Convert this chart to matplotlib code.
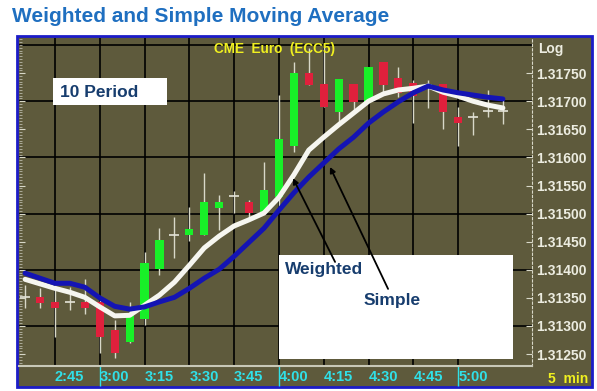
import numpy as np
import matplotlib.pyplot as plt
import matplotlib.ticker as ticker
import matplotlib.transforms as mtransforms
from matplotlib.patches import Rectangle

plt.rcParams['font.family'] = ['Liberation Sans', 'DejaVu Sans']

# 5 min bars from 2:35 to 5:15 (CME Euro ECC5)
opens = [1.31351, 1.31351, 1.31343, 1.31343, 1.31343, 1.31343, 1.31293, 1.31271,
         1.31312, 1.31401, 1.31462, 1.31462, 1.31462, 1.31510, 1.31531, 1.31521,
         1.31501, 1.31529, 1.31620, 1.31750, 1.31731, 1.31681, 1.31731, 1.31699,
         1.31770, 1.31741, 1.31732, 1.31727, 1.31731, 1.31672, 1.31672, 1.31683,
         1.31683]
highs = [1.31373, 1.31367, 1.31373, 1.31369, 1.31383, 1.31346, 1.31311, 1.31343,
         1.31432, 1.31474, 1.31494, 1.31512, 1.31572, 1.31533, 1.31540, 1.31524,
         1.31592, 1.31711, 1.31770, 1.31795, 1.31804, 1.31740, 1.31731, 1.31761,
         1.31770, 1.31761, 1.31738, 1.31738, 1.31731, 1.31690, 1.31681, 1.31720,
         1.31702]
lows = [1.31332, 1.31332, 1.31280, 1.31328, 1.31321, 1.31252, 1.31243, 1.31270,
        1.31302, 1.31391, 1.31421, 1.31451, 1.31462, 1.31471, 1.31501, 1.31489,
        1.31501, 1.31512, 1.31610, 1.31729, 1.31690, 1.31663, 1.31681, 1.31699,
        1.31716, 1.31707, 1.31661, 1.31688, 1.31651, 1.31620, 1.31640, 1.31672,
        1.31659]
closes = [1.31351, 1.31341, 1.31332, 1.31343, 1.31332, 1.31280, 1.31252, 1.31321,
          1.31412, 1.31453, 1.31462, 1.31472, 1.31521, 1.31521, 1.31531, 1.31501,
          1.31542, 1.31633, 1.31750, 1.31729, 1.31690, 1.31740, 1.31699, 1.31761,
          1.31729, 1.31715, 1.31709, 1.31731, 1.31681, 1.31661, 1.31672, 1.31683,
          1.31683]

# 10 period moving averages
wma = [1.31383, 1.31375, 1.31367, 1.31360, 1.31351, 1.31334, 1.31318, 1.31319,
       1.31337, 1.31355, 1.31378, 1.31408, 1.31439, 1.31460, 1.31478, 1.31489,
       1.31501, 1.31529, 1.31569, 1.31613, 1.31636, 1.31658, 1.31679, 1.31700,
       1.31713, 1.31720, 1.31723, 1.31727, 1.31716, 1.31709, 1.31700, 1.31693,
       1.31688]
sma = [1.31394, 1.31385, 1.31376, 1.31376, 1.31369, 1.31350, 1.31335, 1.31330,
       1.31334, 1.31343, 1.31351, 1.31367, 1.31385, 1.31401, 1.31424, 1.31449,
       1.31474, 1.31506, 1.31537, 1.31565, 1.31590, 1.31615, 1.31636, 1.31661,
       1.31681, 1.31699, 1.31715, 1.31727, 1.31720, 1.31715, 1.31711, 1.31707,
       1.31704]

time_labels = ['2:45', '3:00', '3:15', '3:30', '3:45', '4:00', '4:15', '4:30', '4:45', '5:00']
label_bars = [2, 5, 8, 11, 14, 17, 20, 23, 26, 29]
hour_bars = [5, 17, 29]
price_ticks = [1.3125, 1.3130, 1.3135, 1.3140, 1.3145, 1.3150, 1.3155, 1.3160,
               1.3165, 1.3170, 1.3175]
price_labels = ['1.31250', '1.31300', '1.31350', '1.31400', '1.31450', '1.31500',
                '1.31550', '1.31600', '1.31650', '1.31700', '1.31750']
grid_prices = [1.313, 1.314, 1.315, 1.316, 1.317, 1.318]

OLIVE = '#5e5a3c'
NAVY = '#173d6e'
CYAN = '#30e0e8'
YELLOW = '#f0f020'
LIGHT = '#ecece0'

W, H = 597, 391
fig = plt.figure(figsize=(W / 100, H / 100), dpi=100)
fig.patch.set_facecolor('white')

# chart panel with blue frame
panel = Rectangle((17 / W, (H - 387) / H), (592 - 17) / W, (387 - 36) / H,
                  transform=fig.transFigure, facecolor=OLIVE, edgecolor='#1c1cc8',
                  lw=2, zorder=-5)
fig.patches.append(panel)

fig.text(12 / W, (H - 22.5) / H, 'Weighted and Simple Moving Average', fontsize=15,
         fontweight='bold', color='#1f6fc0', va='baseline')

ax = fig.add_axes([19 / W, (H - 366) / H, (532 - 19) / W, (366 - 38) / H])
ax.set_facecolor(OLIVE)
ax.set_zorder(1)

for p in grid_prices:
    ax.axhline(p, color='black', lw=1.2, zorder=1)
for b in label_bars:
    ax.axvline(b, color='black', lw=1.2, zorder=1)

bars = np.arange(len(opens))
o = np.array(opens)
c = np.array(closes)
ax.vlines(bars, lows, highs, color='#d8d8c8', lw=1, zorder=2)
body_col = np.where(c > o, '#18f028', '#e0203c')
ax.bar(bars, np.abs(c - o), bottom=np.minimum(o, c), width=0.55, color=body_col,
       zorder=3)
doji = o == c
ax.hlines(c[doji], bars[doji] - 0.34, bars[doji] + 0.34, color='#e4e4d8', lw=1.2,
          zorder=3)

ax.plot(bars, wma, color='#f6f6f0', lw=3.6, zorder=4, solid_capstyle='round')
ax.plot(bars, sma, color='#1414b4', lw=3.6, zorder=5, solid_capstyle='round')

# callout boxes
ax.add_patch(Rectangle((1.87, 1.31693), 7.64, 0.00048, facecolor='white', zorder=6))
ax.text(2.34, 1.31716, '10 Period', fontsize=12.5, fontweight='bold', color=NAVY,
        va='center', zorder=7)
ax.add_patch(Rectangle((17.0, 1.31241), 15.68, 0.00185, facecolor='white', zorder=6))
ax.text(17.41, 1.31400, 'Weighted', fontsize=12.5, fontweight='bold', color=NAVY,
        va='center', zorder=7)
ax.text(22.64, 1.31346, 'Simple', fontsize=12.5, fontweight='bold', color=NAVY,
        va='center', zorder=7)
arrow = dict(arrowstyle='-|>', color='black', lw=1.3, mutation_scale=8,
             shrinkA=0, shrinkB=0)
ax.annotate('', xy=(17.94, 1.31563), xytext=(20.76, 1.31414), arrowprops=arrow,
            zorder=8)
ax.annotate('', xy=(20.42, 1.31583), xytext=(24.31, 1.31366), arrowprops=arrow,
            zorder=8)

ax.set_xlim(-0.41, 33.95)
ax.set_ylim(1.312288, 1.318125)

ax.set_yticks(price_ticks)
ax.set_yticklabels(price_labels)
ax.yaxis.set_minor_locator(ticker.MultipleLocator(0.00005))
ax.tick_params(axis='y', which='major', left=True, right=True, labelleft=False,
               labelright=True, direction='in', length=4, color='#d8d8c8',
               labelcolor=LIGHT, labelsize=10, pad=3)
ax.tick_params(axis='y', which='minor', left=True, right=False, direction='in',
               length=2, color='#b8b8a8')
for lab in ax.get_yticklabels():
    lab.set_fontweight('bold')

ax.set_xticks(label_bars)
ax.set_xticklabels(time_labels, ha='left', fontweight='bold', color=CYAN, fontsize=10.5)
ax.tick_params(axis='x', length=0, pad=3)

for s in ['top', 'left']:
    ax.spines[s].set_visible(False)
ax.spines['right'].set_color('#d8d8c8')
ax.spines['right'].set_linestyle((0, (2, 2)))
ax.spines['bottom'].set_color('#c8c8b8')
ax.spines['bottom'].set_linewidth(1.5)

trans = mtransforms.blended_transform_factory(ax.transData, ax.transAxes)
ax.vlines(hour_bars, -0.062, 0, transform=trans, color=CYAN, lw=1, clip_on=False)

fig.text(274 / W, (H - 53) / H, 'CME  Euro  (ECC5)', ha='center', va='baseline',
         color=YELLOW, fontsize=9.8, fontweight='bold', zorder=10)
fig.text(538 / W, (H - 53) / H, 'Log', va='baseline', color=LIGHT, fontsize=10,
         fontweight='bold', zorder=10)
fig.text(588 / W, (H - 383) / H, '5  min', ha='right', va='baseline', color=YELLOW,
         fontsize=10, fontweight='bold', zorder=10)

fig.savefig('out.png', dpi=100)
